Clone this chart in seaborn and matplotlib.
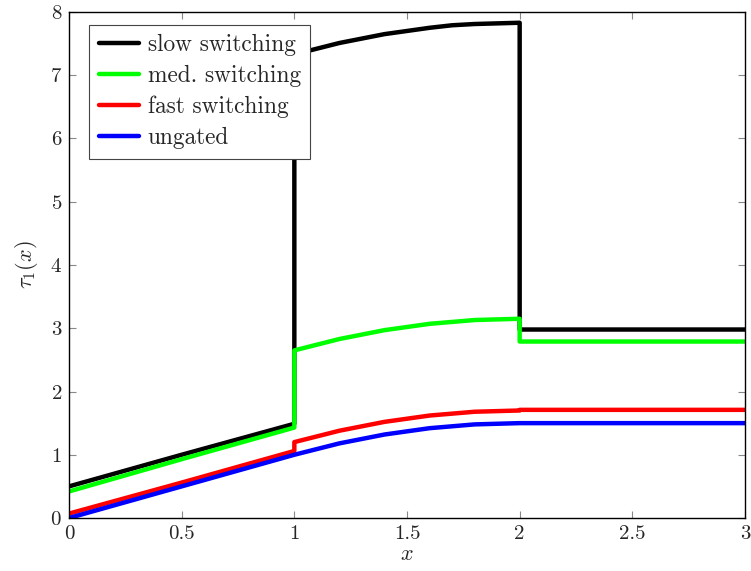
import numpy as np
import pandas as pd
import seaborn as sns
import matplotlib.pyplot as plt

# x samples (duplicates at x=1 and x=2 give the vertical jumps)
x_pts = [0.0, 0.5, 1.0, 1.0, 1.1, 1.2, 1.3, 1.4, 1.5, 1.6, 1.7, 1.8, 1.9, 2.0, 2.0, 3.0]

slow = [0.50, 1.00, 1.49, 7.33, 7.42, 7.51, 7.58, 7.65, 7.70, 7.75, 7.79, 7.81, 7.82, 7.83, 2.98, 2.98]
med = [0.42, 0.93, 1.43, 2.65, 2.74, 2.83, 2.90, 2.97, 3.02, 3.07, 3.10, 3.13, 3.14, 3.15, 2.79, 2.79]
fast = [0.07, 0.56, 1.06, 1.20, 1.29, 1.38, 1.45, 1.52, 1.57, 1.62, 1.65, 1.68, 1.69, 1.70, 1.71, 1.71]
ungated = [0.00, 0.50, 1.00, 1.00, 1.09, 1.18, 1.25, 1.32, 1.37, 1.42, 1.45, 1.48, 1.49, 1.50, 1.50, 1.50]

labels = ["slow switching", "med. switching", "fast switching", "ungated"]
colors = ["black", "#00ff00", "red", "blue"]

frames = []
for lab, ys in zip(labels, [slow, med, fast, ungated]):
    frames.append(pd.DataFrame({"x": x_pts, "y": ys, "series": lab}))
df = pd.concat(frames, ignore_index=True)

sns.set_style("ticks")
plt.rcParams['font.family'] = 'serif'
plt.rcParams['font.serif'] = ['cmr10', 'DejaVu Serif']
plt.rcParams['mathtext.fontset'] = 'cm'
plt.rcParams['axes.formatter.use_mathtext'] = True

fig = plt.figure(figsize=(7.51, 5.71), dpi=100)
ax = fig.add_axes([0.0919, 0.0928, 0.9001, 0.8862])

sns.lineplot(data=df, x="x", y="y", hue="series", palette=dict(zip(labels, colors)),
             estimator=None, sort=False, linewidth=3.2, ax=ax)

ax.set_xlim(0, 3)
ax.set_ylim(0, 8)
ax.set_xticks([0, 0.5, 1, 1.5, 2, 2.5, 3])
ax.set_xticklabels(["0", "0.5", "1", "1.5", "2", "2.5", "3"])
ax.set_yticks(range(0, 9))
ax.tick_params(direction="in", top=True, right=True, length=5, width=0.8,
               color="#888888", labelsize=15, pad=5)
for sp in ax.spines.values():
    sp.set_color("black")
    sp.set_linewidth(1.0)
ax.set_xlabel("$x$", fontsize=16, labelpad=1)
ax.set_ylabel(r"$\tau_1(x)$", fontsize=16, labelpad=7)

leg = ax.legend(loc="upper left", bbox_to_anchor=(0.03, 0.975), fontsize=16.8, frameon=True,
                fancybox=False, edgecolor="#444444", framealpha=1, handlelength=1.75,
                borderpad=0.4, labelspacing=0.38, handletextpad=0.35, borderaxespad=0.0)
leg.get_frame().set_linewidth(0.8)
for h in leg.get_lines():
    h.set_linewidth(3.2)

plt.savefig("out.png", dpi=100)
